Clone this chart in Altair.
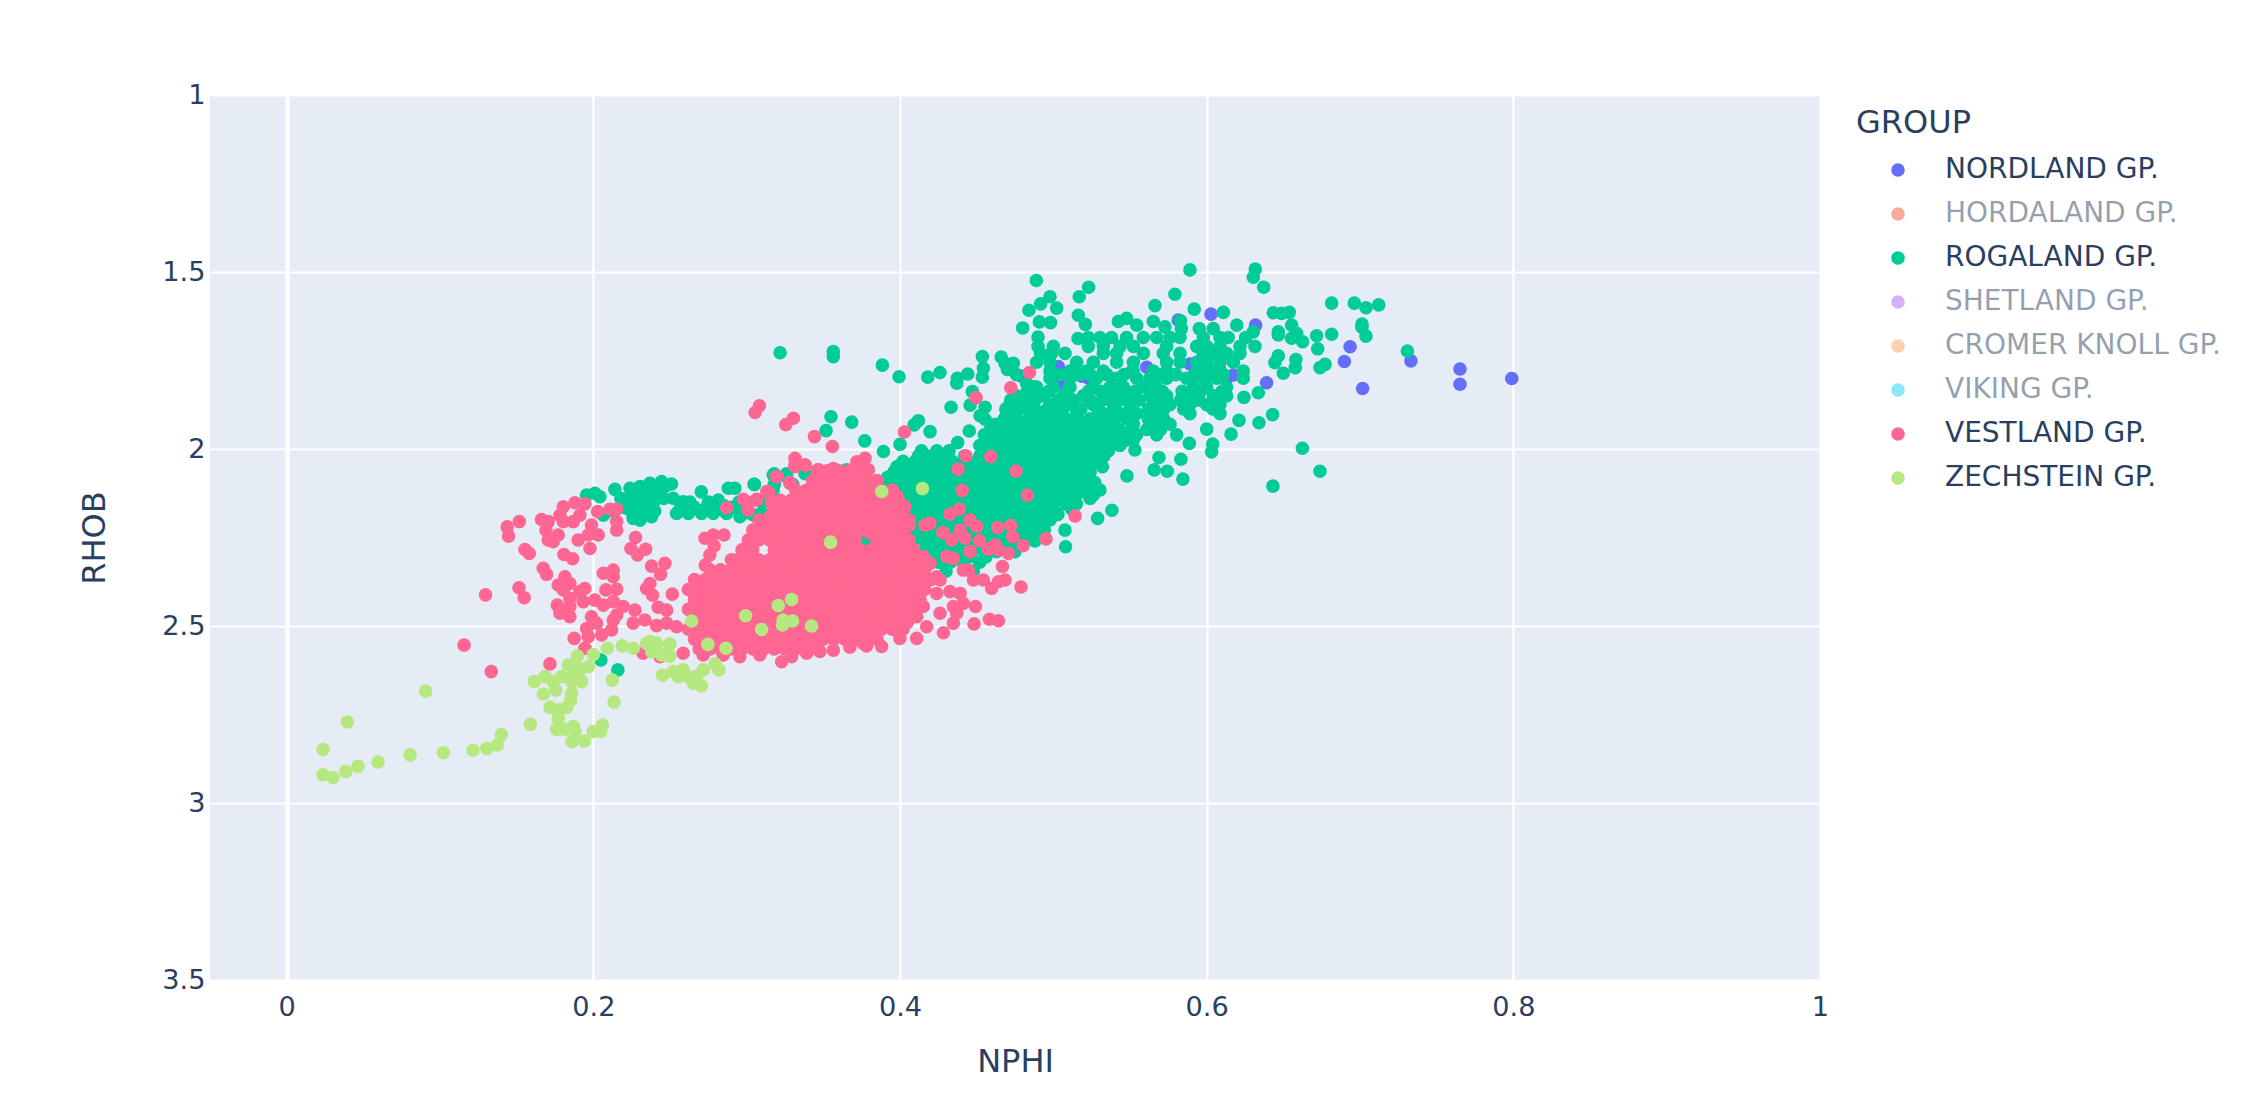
import altair as alt
import pandas as pd

groups = ["NORDLAND GP.", "HORDALAND GP.", "ROGALAND GP.", "SHETLAND GP.",
          "CROMER KNOLL GP.", "VIKING GP.", "VESTLAND GP.", "ZECHSTEIN GP."]
colors = ["#636efa", "#EF553B", "#00cc96", "#ab63fa", "#FFA15A", "#19d3f3", "#FF6692", "#B6E880"]
hidden = ["HORDALAND GP.", "SHETLAND GP.", "CROMER KNOLL GP.", "VIKING GP."]
x_ticks = [0, 0.2, 0.4, 0.6, 0.8, 1]
y_ticks = [1, 1.5, 2, 2.5, 3, 3.5]

nordland = [(.7990,1.801),(.7652,1.774),(.7652,1.817),(.7332,1.751),(.6935,1.711),(.6898,1.753),(.7017,1.829),
 (.6391,1.813),(.6319,1.650),(.6028,1.619),(.5815,1.636),(.5891,1.760),(.4793,1.794),(.5032,1.767),(.5185,1.794),
 (.5032,1.815),(.5609,1.769),(.5641,1.800),(.5510,1.782),(.6130,1.800),(.6174,1.791),(.6087,1.777),(.5960,1.750),(.5230,1.800)]

rogaland = [(.5891,1.494),(.6317,1.492),(.6304,1.515),(.6372,1.543),(.4889,1.524),(.5230,1.543),(.5169,1.570),(.4978,1.570),
 (.4917,1.590),(.5022,1.602),(.4841,1.608),(.5793,1.563),(.5663,1.595),(.5919,1.605),(.6109,1.614),(.5163,1.622),(.4909,1.641),
 (.4982,1.643),(.5209,1.648),(.4800,1.658),(.4900,1.684),(.5161,1.688),(.6815,1.588),(.6963,1.588),(.7039,1.601),(.7122,1.593),
 (.6435,1.615),(.6489,1.617),(.6539,1.614),(.6554,1.650),(.6467,1.669),(.6467,1.678),(.6587,1.673),(.6554,1.687),(.6626,1.697),
 (.6717,1.680),(.6815,1.676),(.7013,1.647),(.7013,1.656),(.7039,1.681),(.6724,1.717),(.6772,1.761),(.6739,1.770),(.7309,1.723),
 (.6467,1.737),(.6445,1.756),(.6582,1.747),(.6578,1.770),(.6500,1.786),(.6337,1.841),(.6243,1.854),(.6430,1.903),(.6341,1.926),
 (.6211,1.919),(.6159,1.958),(.6000,1.944),(.6624,1.998),(.6739,2.063),(.6432,2.105),(.5887,1.984),(.6039,1.986),(.6032,2.008),
 (.5689,2.024),(.5832,2.029),(.5658,2.059),(.5743,2.063),(.5845,2.085),(.5480,2.076),(.5532,2.003),(.5382,2.173),(.5289,2.196),
 (.5304,2.116),(.5261,2.130),(.5076,2.229),(.5080,2.276),(.5830,1.638),(.5835,1.660),
 (.5424,1.640),(.5478,1.631),(.5544,1.650),(.5652,1.640),(.5728,1.655),(.5952,1.660),(.6043,1.660),(.6196,1.650),(.6304,1.669),
 (.3885,1.763),(.3994,1.796),(.4181,1.797),(.4261,1.784),(.4370,1.814),(.4374,1.800),(.4442,1.788),(.4537,1.797),(.4544,1.772),
 (.4537,1.739),(.3218,1.728),(.3565,1.725),(.3565,1.739),(.3550,1.909),(.3518,1.948),(.3685,1.924),(.3770,1.977),(.3892,2.007),
 (.4000,1.987),(.4120,1.920),(.4092,1.932),(.4196,1.951),(.4376,1.982),(.4452,1.949),(.4472,1.838),(.4457,1.876),(.4333,1.882),
 (.4555,1.882),(.4522,1.906),(.4555,1.916),(.4722,1.862),(.4794,1.857),(.4816,1.880),(.4685,1.758),(.4739,1.758),(.4870,1.824),
 (.4826,1.815),(.4660,1.740),(.4700,1.775),(.4760,1.790),
 (.1956,2.130),(.2010,2.125),(.2043,2.135),(.2141,2.114),(.2065,2.187),(.2239,2.111),(.2304,2.106),(.2369,2.097),(.2445,2.092),
 (.2510,2.099),(.2239,2.139),(.2304,2.135),(.2369,2.130),(.2434,2.125),(.2239,2.172),(.2304,2.163),(.2380,2.163),(.2304,2.201),
 (.2380,2.191),(.2260,2.196),(.2521,2.139),(.2586,2.149),(.2543,2.182),(.2619,2.182),(.2704,2.121),(.2706,2.182),(.2782,2.182),
 (.2815,2.144),(.2880,2.111),(.2923,2.111),(.2869,2.182),(.2956,2.191),(.3043,2.186),(.3130,2.191),(.3049,2.100),(.3173,2.073),
 (.3173,2.116),(.3260,2.078),(.2180,2.140),(.2200,2.165),(.2130,2.175),(.2630,2.150),(.2750,2.150),(.2850,2.160),(.2950,2.150),
 (.2280,2.120),(.2340,2.115),(.2400,2.110),(.2470,2.105),(.2280,2.150),(.2340,2.150),(.2400,2.145),(.2460,2.140),(.2280,2.185),
 (.2340,2.180),(.2400,2.175),(.2570,2.165),(.2660,2.165),(.2740,2.165),(.2820,2.170),(.2900,2.165),(.2980,2.170),
 (.2049,2.596),(.2160,2.624),(.3434,2.276),(.3782,2.257),(.3760,2.153),(.3652,2.059)]

# green cloud, one entry per row: (RHOB, [NPHI ...])
rogaland_rows = [
 (1.685, [.5228,.5304,.5380,.5478,.5587,.5674,.5761,.5826,.5978,.6087,.6141,.6254]),
 (1.710, [.4900,.5000,.5228,.5326,.5435,.5522,.5739,.5935,.6000,.6087,.6217,.6315]),
 (1.730, [.4917,.4989,.5076,.5326,.5413,.5587,.5717,.5826,.5978,.6043,.6130,.6217]),
 (1.755, [.4891,.4978,.5152,.5261,.5413,.5522,.5739,.5826,.5935,.6000,.6087,.6174]),
 (1.780, [.4978,.5109,.5217,.5326,.5522,.5652,.5739,.5957,.6043,.6239]),
 (1.790, [.5040,.5170,.5240,.5350,.5460,.5690,.5800,.5920,.6010,.6110]),
 (1.800, [.4978,.5109,.5283,.5413,.5543,.5630,.5739,.5869,.5978,.6065,.6239]),
 (1.825, [.4891,.5000,.5109,.5261,.5370,.5457,.5587,.5674,.5913,.6000,.6130]),
 (1.837, [.4830,.4970,.5090,.5230,.5310,.5420,.5530,.5710,.5840,.5960,.6100]),
 (1.850, [.4761,.4935,.5065,.5196,.5348,.5478,.5630,.5739,.5891,.6043,.6130]),
 (1.862, [.4780,.4880,.5030,.5130,.5240,.5320,.5430,.5560,.5700,.5830,.5950,.6060]),
 (1.875, [.4717,.4826,.4978,.5109,.5261,.5391,.5500,.5652,.5761,.5891,.6000,.6087]),
 (1.887, [.4690,.4780,.4880,.4960,.5060,.5180,.5290,.5400,.5500,.5620,.5720,.5850,.6040]),
 (1.900, [.4739,.4891,.5000,.5152,.5326,.5435,.5543,.5674,.5891,.6087]),
 (1.915, [.4680,.4760,.4840,.4920,.5000,.5080,.5160,.5240,.5300,.5400,.5480,.5620,.5720]),
 (1.930, [.462,.470,.478,.486,.494,.503,.512,.520,.5370,.5522,.5674,.5761]),
 (1.945, [.4590,.4660,.4740,.4820,.4890,.4970,.5040,.5120,.5190,.5270,.5340,.5430,.5510,.5610,.5700]),
 (1.960, [.455,.463,.470,.478,.485,.493,.500,.508,.515,.523,.530,.5370,.5500,.5543,.5674,.5804]),
 (1.975, [.4560,.4640,.4720,.4790,.4870,.4940,.5020,.5090,.5170,.5240,.5320,.5400,.5470,.5520]),
 (1.990, [.452,.460,.468,.475,.483,.490,.498,.505,.513,.520,.528,.536,.5435]),
 (2.005, [.4140,.4240,.4320,.4560,.4620,.4690,.4770,.4840,.4920,.4990,.5070,.5140,.5220,.5300,.5360]),
 (2.020, [.412,.420,.428,.442,.452,.458,.465,.473,.480,.488,.495,.503,.510,.518,.526,.533]),
 (2.035, [.4020,.4100,.4180,.4260,.4340,.4420,.4500,.4580,.4660,.4740,.4820,.4900,.4980,.5060,.5140,.5220,.5280]),
 (2.050, [.398,.406,.414,.422,.430,.438,.446,.454,.462,.470,.478,.486,.494,.502,.510,.518,.532]),
 (2.065, [.3960,.4040,.4120,.4200,.4280,.4360,.4440,.4520,.4600,.4680,.4760,.4840,.4920,.5000,.5080,.5160,.5240]),
 (2.080, [.392,.400,.408,.416,.424,.432,.440,.448,.456,.464,.472,.480,.488,.496,.504,.512,.520]),
 (2.095, [.3920,.4000,.4080,.4160,.4240,.4320,.4400,.4480,.4560,.4640,.4720,.4800,.4880,.4960,.5040,.5120,.5200,.5270]),
 (2.110, [.388,.396,.404,.412,.420,.428,.436,.444,.452,.460,.468,.476,.484,.492,.500,.508,.516,.524]),
 (2.125, [.3880,.3960,.4040,.4120,.4200,.4280,.4360,.4440,.4520,.4600,.4680,.4760,.4840,.4920,.5000,.5080,.5160,.5220]),
 (2.140, [.392,.400,.408,.416,.424,.432,.440,.448,.456,.464,.472,.480,.488,.496,.504,.512,.524]),
 (2.155, [.3960,.4040,.4120,.4200,.4280,.4360,.4440,.4520,.4600,.4680,.4760,.4840,.4920,.5000,.5080,.5150]),
 (2.170, [.396,.404,.412,.420,.428,.436,.444,.452,.460,.468,.476,.484,.492,.500,.512]),
 (2.185, [.4080,.4160,.4240,.4320,.4400,.4480,.4560,.4640,.4720,.4800,.4880,.4960,.5030]),
 (2.200, [.412,.420,.428,.436,.444,.452,.460,.468,.476,.484,.492,.498]),
 (2.215, [.4140,.4220,.4300,.4380,.4460,.4540,.4620,.4700,.4780,.4860,.4940]),
 (2.230, [.410,.418,.426,.434,.442,.450,.458,.466,.474,.482,.490,.494]),
 (2.245, [.4120,.4200,.4280,.4360,.4440,.4520,.4600,.4680,.4760,.4840,.4900]),
 (2.260, [.408,.416,.424,.432,.440,.448,.456,.464,.472,.480,.488]),
 (2.275, [.4190,.4270,.4350,.4430,.4510,.4590,.4670,.4760]),
 (2.290, [.415,.423,.431,.439,.447,.455,.463,.475]),
 (2.305, [.4290,.4370,.4450,.4560]),
 (2.320, [.425,.433,.441,.452]),
 (2.345, [.430,.4478]),
 (2.070, [.318,.326,.338,.363,.371]),
 (2.100, [.305,.318,.330,.345,.360,.372,.385]),
 (2.150, [.300,.310,.320,.330,.340,.350,.360,.370,.380]),
 (2.180, [.300,.310,.320,.330,.340,.350,.360,.370,.380]),
 (2.220, [.335,.350,.365,.380,.395]),
 (2.250, [.345,.360,.375,.390,.405]),
]

vestland = [(.1517,2.205),(.1438,2.220),(.1447,2.246),(.1662,2.199),(.1706,2.205),(.1691,2.229),(.1804,2.163),(.1782,2.187),
 (.1880,2.152),(.1945,2.155),(.1912,2.187),(.1869,2.205),(.1804,2.205),(.2028,2.177),(.2108,2.170),(.2152,2.170),(.2152,2.205),
 (.2152,2.229),(.1988,2.215),(.2032,2.243),(.1967,2.243),(.1901,2.257),(.1978,2.281),(.1771,2.243),(.1738,2.262),(.1706,2.257),
 (.1554,2.284),(.1582,2.295),(.1808,2.298),(.1865,2.310),(.1673,2.337),(.1695,2.354),(.1815,2.361),(.1771,2.384),(.1847,2.380),
 (.1804,2.398),(.1297,2.412),(.1515,2.392),(.1549,2.420),(.1945,2.394),(.1912,2.403),(.1847,2.422),(.1765,2.441),(.1782,2.464),
 (.1847,2.474),(.1847,2.445),(.1934,2.431),(.2010,2.427),(.2065,2.441),(.2130,2.431),(.2195,2.445),(.1988,2.474),(.1956,2.507),
 (.2021,2.492),(.2130,2.483),(.2152,2.469),(.2119,2.511),(.2054,2.525),(.1967,2.530),(.1875,2.535),(.1945,2.563),(.2065,2.351),
 (.2130,2.342),(.2130,2.361),(.2082,2.398),(.2152,2.396),(.2275,2.250),(.2245,2.281),(.2288,2.299),(.2341,2.283),(.2380,2.331),
 (.2467,2.323),(.2438,2.354),(.2369,2.380),(.2347,2.394),(.2386,2.413),(.2515,2.410),(.2423,2.447),(.2478,2.455),(.2271,2.455),
 (.2260,2.492),(.2336,2.483),(.2412,2.499),(.2478,2.492),(.2543,2.502),(.2728,2.252),(.2782,2.243),(.2852,2.243),(.2788,2.274),
 (.2760,2.299),(.2730,2.328),(.2869,2.166),(.2978,2.142),(.3010,2.172),(.3065,2.142),(.3145,2.122),(.3162,2.152),(.3156,2.193),
 (.3221,2.184),(.3195,2.078),(.3282,2.095),(.3315,2.045),(.3380,2.045),(.3467,2.059),(.3565,2.059),(.1717,2.607),(.1334,2.629),
 (.1157,2.554),(.2325,2.577),(.2434,2.587),(.3228,2.601),(.3293,2.587),(.2586,2.577),
 (.2717,2.582),(.2847,2.582),(.2956,2.587),(.3086,2.582),(.3391,2.577),(.3478,2.572),(.3565,2.568),(.3673,2.560),(.3782,2.556),
 (.3880,2.558),(.3761,2.549),(.3999,2.535),(.4109,2.380),(.4196,2.323),(.4152,2.304),(.4239,2.361),(.4109,2.474),
 (.3083,1.878),(.3055,1.897),(.3305,1.913),(.3255,1.931),(.3442,1.965),(.3559,1.993),(.4029,1.952),(.4496,1.855),(.4722,1.827),
 (.4844,1.784),(.4429,2.019),(.4592,2.022),(.4379,2.057),(.4757,2.062),(.4405,2.117),(.4831,2.130),(.5142,2.189),(.4326,2.184),
 (.4387,2.170),(.4457,2.201),(.4500,2.219),(.4637,2.222),(.4722,2.216),(.4952,2.254),(.4804,2.273),(.4735,2.248),(.4707,2.295),
 (.4620,2.271),(.4576,2.283),(.4642,2.285),(.4457,2.290),(.4518,2.259),(.4424,2.252),(.4337,2.257),(.4279,2.236),(.4392,2.229),
 (.4163,2.215),(.4196,2.210),(.4061,2.215),(.4668,2.332),(.4789,2.390),(.4685,2.370),(.4642,2.375),(.4598,2.394),(.4544,2.370),
 (.4479,2.370),(.4413,2.342),(.4348,2.309),(.4305,2.304),(.4446,2.342),(.4492,2.445),(.4483,2.494),(.4583,2.481),(.4642,2.485),
 (.4370,2.464),(.4413,2.436),(.4392,2.408),(.4326,2.403),(.4261,2.370),(.4348,2.492),(.4283,2.519),(.4109,2.535),(.4174,2.502),
 (.4261,2.464),(.4348,2.445),(.4239,2.408),(.4152,2.445),(.4044,2.492),(.3131,2.120),(.3065,2.144),(.3163,2.149),(.3200,2.078),
 (.3283,2.097),(.3152,2.191),(.3218,2.185),(.3315,2.026),(.3381,2.045),(.3315,2.050),(.3468,2.059),(.3565,2.055),(.3565,2.092),
 (.3718,2.036),(.3772,2.026),(.3794,2.059),(.3794,2.092),(.3728,2.106),(.3402,2.116),(.3305,2.158),(.3979,2.133),(.4033,2.163),
 (.3914,2.163),(.3913,2.191),(.3979,2.219),(.3892,2.243),(.3805,2.238)]

# solid pink core: markers overlap too heavily to separate, so rows of estimates that cover it
vestland_rows = [
 (2.565, [.269,.276,.283,.290,.297,.304,.311,.318,.325,.332,.339,.346]),
 (2.537, [.266,.273,.280,.287,.294,.301,.308,.315,.322,.329,.336,.343,.350,.357,.364,.371,.378,.385]),
 (2.509, [.262,.269,.276,.283,.290,.297,.304,.311,.318,.325,.332,.339,.346,.353,.360,.367,.374,.381,.388,.395,.402]),
 (2.481, [.266,.273,.280,.287,.294,.301,.308,.315,.322,.329,.336,.343,.350,.357,.364,.371,.378,.385,.392,.399,.406]),
 (2.453, [.262,.269,.276,.283,.290,.297,.304,.311,.318,.325,.332,.339,.346,.353,.360,.367,.374,.381,.388,.395,.402,.409]),
 (2.425, [.266,.273,.280,.287,.294,.301,.308,.315,.322,.329,.336,.343,.350,.357,.364,.371,.378,.385,.392,.399,.406,.413]),
 (2.397, [.262,.269,.276,.283,.290,.297,.304,.311,.318,.325,.332,.339,.346,.353,.360,.367,.374,.381,.388,.395,.402,.409,.416]),
 (2.369, [.266,.273,.280,.287,.294,.301,.308,.315,.322,.329,.336,.343,.350,.357,.364,.371,.378,.385,.392,.399,.406,.413,.420]),
 (2.341, [.276,.283,.290,.297,.304,.311,.318,.325,.332,.339,.346,.353,.360,.367,.374,.381,.388,.395,.402,.409,.416]),
 (2.313, [.290,.294,.301,.308,.315,.322,.329,.336,.343,.350,.357,.364,.371,.378,.385,.392,.399,.406,.413]),
 (2.285, [.297,.304,.318,.325,.332,.339,.346,.353,.360,.367,.374,.381,.388,.395,.402,.409]),
 (2.257, [.301,.308,.315,.322,.329,.336,.343,.350,.357,.364,.371,.385,.392,.399,.406]),
 (2.229, [.304,.311,.318,.325,.332,.339,.346,.353,.360,.367,.374,.381,.388,.395,.402]),
 (2.201, [.308,.315,.322,.329,.336,.343,.350,.357,.364,.371,.378,.385,.392,.399,.406]),
 (2.173, [.318,.325,.332,.339,.346,.353,.360,.367,.374,.381,.388,.395,.402]),
 (2.145, [.322,.329,.336,.343,.350,.357,.364,.371,.378,.385,.392,.399]),
 (2.117, [.332,.339,.346,.353,.360,.367,.374,.381,.388,.395]),
 (2.089, [.343,.350,.357,.364,.371,.378,.385]),
 (2.061, [.346,.353,.360,.367,.374]),
]

zechstein = [(.0396,2.771),(.0907,2.684),(.0237,2.849),(.0237,2.920),(.0302,2.928),(.0385,2.911),(.0465,2.896),(.0596,2.884),
 (.0805,2.864),(.1022,2.858),(.1215,2.851),(.1305,2.846),(.1374,2.836),(.1400,2.807),(.1589,2.778),(.1616,2.657),(.1685,2.643),
 (.1739,2.657),(.1674,2.692),(.1755,2.681),(.1794,2.643),(.1837,2.610),(.1896,2.585),(.1913,2.624),(.1870,2.638),(.1924,2.657),
 (.1892,2.615),(.1859,2.657),(.1968,2.615),(.2000,2.581),(.2092,2.563),(.1859,2.690),(.1852,2.709),(.1826,2.730),(.1772,2.737),
 (.1718,2.730),(.1772,2.761),(.1761,2.792),(.1815,2.792),(.1870,2.784),(.1881,2.798),(.1861,2.827),(.1942,2.825),(.2000,2.798),
 (.2048,2.798),(.2059,2.780),(.2124,2.653),(.2135,2.715),(.2189,2.556),(.2261,2.563),(.2348,2.549),(.2413,2.549),(.2381,2.573),
 (.2489,2.582),(.2500,2.551),(.2452,2.639),(.2369,2.544),(.2412,2.549),(.2499,2.551),(.2445,2.582),(.2499,2.585),(.2641,2.486),
 (.2747,2.552),(.2865,2.563),(.2993,2.471),(.3097,2.510),(.3206,2.442),(.3293,2.425),(.3238,2.483),(.3299,2.486),(.3234,2.497),
 (.3423,2.500),(.3547,2.263),(.2521,2.629),(.2586,2.624),(.2554,2.643),(.2619,2.643),(.2652,2.662),(.2706,2.669),(.2717,2.624),
 (.2793,2.607),(.2819,2.624),(.2673,2.643),(.3881,2.120),(.4146,2.112)]

rows = []
rows += [(x, y, "NORDLAND GP.") for x, y in nordland]
rows += [(x, y, "ROGALAND GP.") for x, y in rogaland]
rows += [(x, y, "ROGALAND GP.") for y, xs in rogaland_rows for x in xs]
rows += [(x, y, "VESTLAND GP.") for y, xs in vestland_rows for x in xs]
rows += [(x, y, "VESTLAND GP.") for x, y in vestland]
rows += [(x, y, "ZECHSTEIN GP.") for x, y in zechstein]
df = pd.DataFrame(rows, columns=["NPHI", "RHOB", "GROUP"])

ink = "#2a3f5f"
font = "DejaVu Sans"
hidden_test = "indexof(" + str(hidden) + ", datum.label) >= 0 ? 0.5 : 1"
hidden_test_sym = "indexof(" + str(hidden) + ", datum.value) >= 0 ? 0.5 : 1"

x_enc = alt.X("NPHI:Q", title="NPHI",
              scale=alt.Scale(domain=[-0.05, 1], nice=False, zero=False),
              axis=alt.Axis(values=x_ticks, format="~g", grid=True, gridColor="white",
                            gridWidth={"condition": {"test": "datum.value === 0", "value": 4.4}, "value": 2.2},
                            ticks=False, domain=False, labelFontSize=27.2, titleFontSize=32, labelFlush=False,
                            labelColor=ink, titleColor=ink, labelFont=font, titleFont=font,
                            titleFontWeight="normal", labelPadding=14, titlePadding=26))
y_enc = alt.Y("RHOB:Q", title="RHOB",
              scale=alt.Scale(domain=[1, 3.5], reverse=True, nice=False, zero=False),
              axis=alt.Axis(values=y_ticks, format="~g", grid=True, gridColor="white", gridWidth=2.2,
                            ticks=False, domain=False, labelFontSize=27.2, titleFontSize=32, labelFlush=False,
                            labelColor=ink, titleColor=ink, labelFont=font, titleFont=font,
                            titleFontWeight="normal", labelPadding=5, titlePadding=50))

chart = alt.Chart(df).mark_circle(size=185, opacity=1).encode(
    x=x_enc, y=y_enc,
    color=alt.Color("GROUP:N", title="GROUP",
                    scale=alt.Scale(domain=groups, range=colors),
                    sort=None,
                    legend=alt.Legend(orient="none", legendX=1646, legendY=13, titleFontSize=32,
                                      titleColor=ink, titleFont=font, titleFontWeight="normal",
                                      labelFontSize=28, labelColor=ink, labelFont=font,
                                      labelLimit=400, symbolType="circle", symbolSize=185,
                                      symbolOffset=28, labelOffset=33, rowPadding=16, titlePadding=16,
                                      labelOpacity=alt.expr(hidden_test),
                                      symbolOpacity=alt.expr(hidden_test_sym)))
).properties(
    width=1610, height=885, background="white",
    padding={"left": 70, "top": 73, "right": 5, "bottom": 5},
).configure_view(fill="#E5ECF6", stroke=None)

chart.save("out.html", embed_options={"renderer": "svg", "actions": False})
